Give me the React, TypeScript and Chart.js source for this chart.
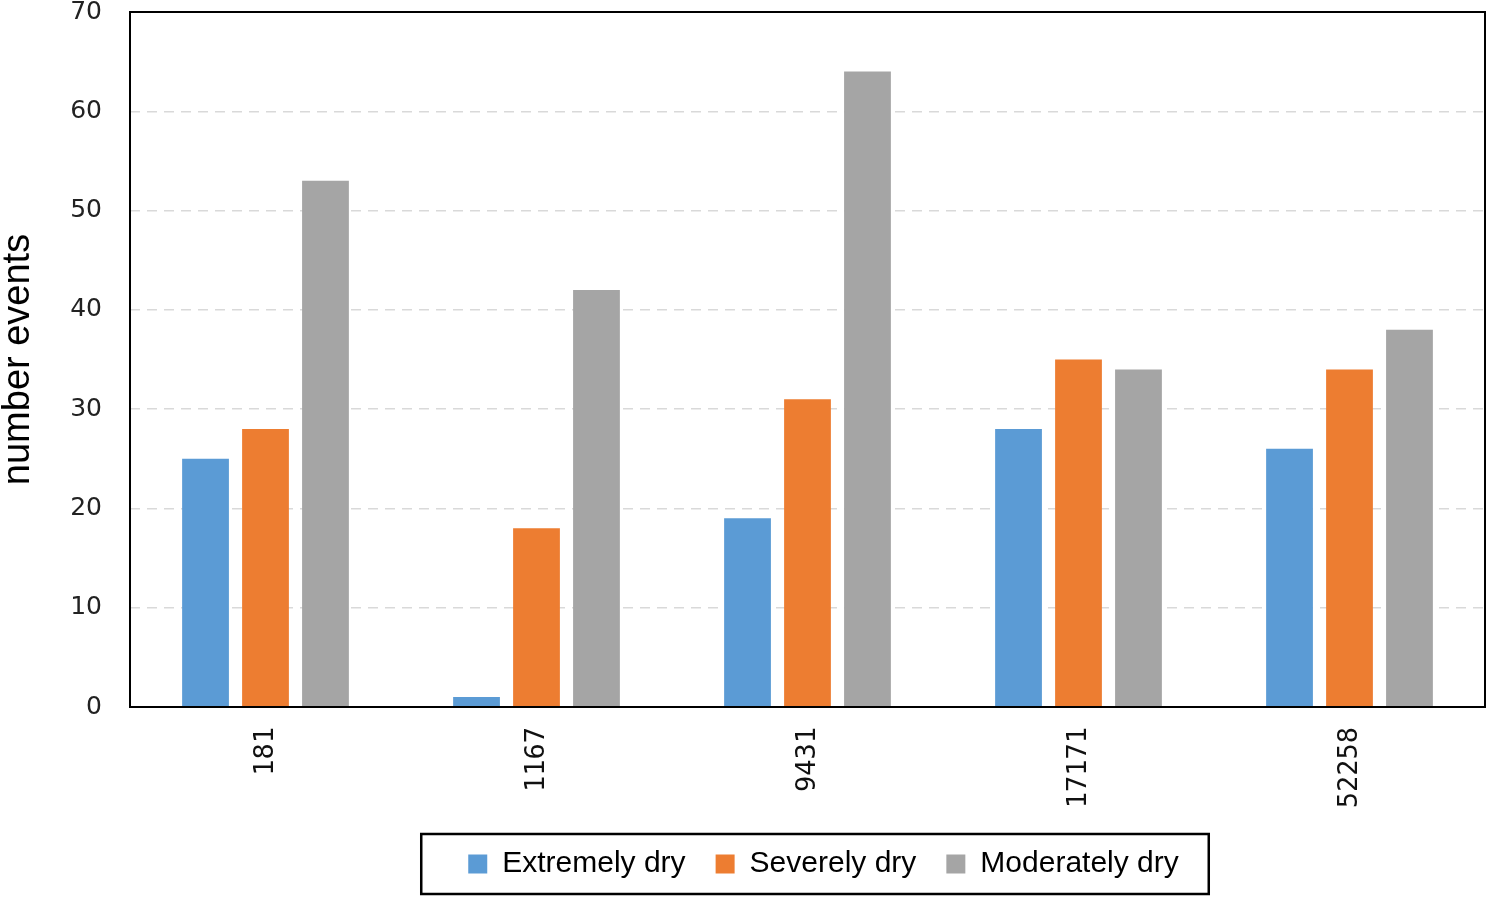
import { Chart, registerables } from "chart.js";
import { useEffect, useRef } from "react";

Chart.register(...registerables);

const categories = ["181", "1167", "9431", "17171", "52258"];
const extremelyDry = [25, 1, 19, 28, 26];
const severelyDry = [28, 18, 31, 35, 34];
const moderatelyDry = [53, 42, 64, 34, 38];

// frame round the plot area
const plotFrame = {
  id: "plotFrame",
  afterDatasetsDraw(chart: any) {
    const { ctx, chartArea } = chart;
    ctx.save();
    ctx.strokeStyle = "#000";
    ctx.lineWidth = 2;
    ctx.strokeRect(
      chartArea.left,
      chartArea.top,
      chartArea.right - chartArea.left,
      chartArea.bottom - chartArea.top
    );
    ctx.restore();
  },
};

// box round the legend items, legend nudged a bit to the right
const legendFrame = {
  id: "legendFrame",
  afterLayout(chart: any) {
    if (chart.legend) {
      chart.legend.left += 16;
      chart.legend.right += 16;
    }
  },
  afterDraw(chart: any) {
    const boxes = chart.legend?.legendHitBoxes;
    if (!boxes || !boxes.length) return;
    const left = Math.min(...boxes.map((b: any) => b.left));
    const right = Math.max(...boxes.map((b: any) => b.left + b.width));
    const mid = boxes[0].top + boxes[0].height / 2;
    const { ctx } = chart;
    ctx.save();
    ctx.strokeStyle = "#000";
    ctx.lineWidth = 2.5;
    ctx.strokeRect(left - 47, mid - 30, right - left + 77, 60);
    ctx.restore();
  },
};

export default function App() {
  const canvasRef = useRef<HTMLCanvasElement>(null);

  useEffect(() => {
    const ctx = canvasRef.current!.getContext("2d")!;
    const myChart = new Chart(ctx, {
      type: "bar",
      data: {
        labels: categories,
        datasets: [
          {
            label: "Extremely dry",
            data: extremelyDry,
            backgroundColor: "#5B9BD5",
          },
          {
            label: "Severely dry",
            data: severelyDry,
            backgroundColor: "#ED7D31",
          },
          {
            label: "Moderately dry",
            data: moderatelyDry,
            backgroundColor: "#A5A5A5",
          },
        ],
      },
      options: {
        responsive: true,
        maintainAspectRatio: false,
        animation: false,
        datasets: {
          bar: { barPercentage: 0.78, categoryPercentage: 0.664 },
        },
        layout: { padding: { top: 0, right: 14, bottom: 8, left: 0 } },
        plugins: {
          tooltip: { enabled: false },
          legend: {
            position: "bottom",
            fullSize: false,
            labels: {
              boxWidth: 19,
              boxHeight: 19,
              padding: 30,
              color: "#000",
              font: { family: "'Liberation Sans', Arial", size: 30 },
            },
          },
        },
        scales: {
          x: {
            grid: { display: false, drawTicks: false },
            border: { display: false },
            ticks: {
              minRotation: 90,
              maxRotation: 90,
              padding: 20,
              color: "#111",
              font: { family: "'DejaVu Sans Mono'", size: 27 },
            },
            afterFit(axis: any) {
              axis.height = 112;
            },
          },
          y: {
            min: 0,
            max: 70,
            ticks: {
              stepSize: 10,
              padding: 28,
              color: "#222",
              font: { family: "'DejaVu Sans'", size: 25 },
            },
            grid: {
              color: "#d9d9d9",
              lineWidth: 1.5,
              drawTicks: false,
            },
            border: { display: false, dash: [10, 7] },
            title: {
              display: true,
              text: "number events",
              color: "#000",
              padding: 0,
              font: { family: "'Liberation Sans', Arial", size: 38, lineHeight: 1 },
            },
            afterFit(axis: any) {
              axis.width = 130;
              axis.paddingTop = 12;
              axis.paddingBottom = 0;
            },
          },
        },
      },
      plugins: [plotFrame, legendFrame],
    });

    return () => {
      myChart.destroy();
    };
  }, []);

  return (
    <div style={{ position: "fixed", left: 0, top: 0, width: 1499, height: 897 }}>
      <canvas ref={canvasRef}></canvas>
    </div>
  );
}
